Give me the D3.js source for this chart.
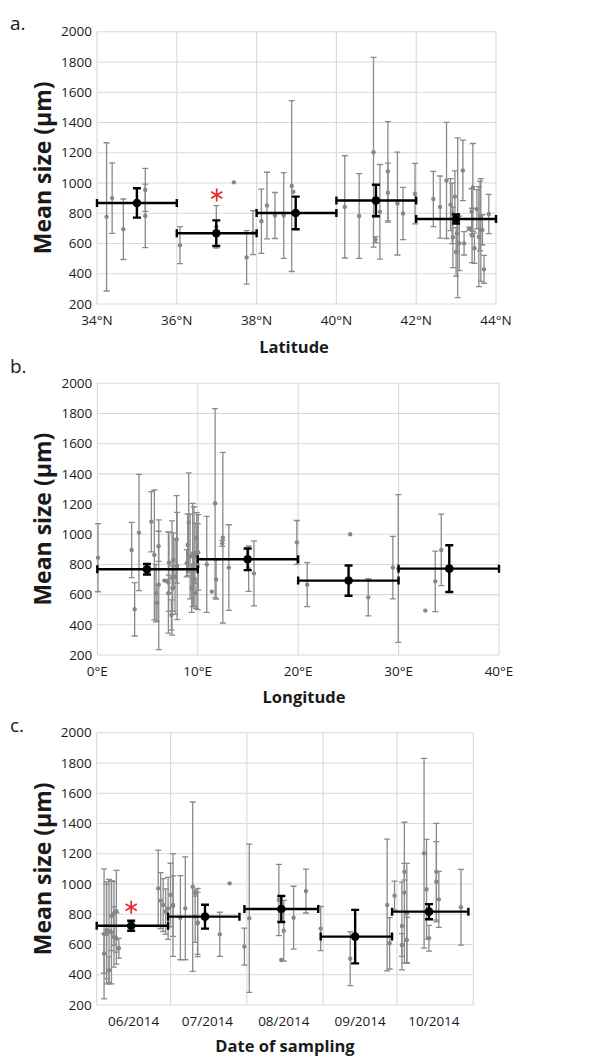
<!DOCTYPE html>
<html>
<head>
<meta charset="utf-8">
<script src="https://cdn.jsdelivr.net/npm/d3@7"></script>
<style>
body{margin:0;background:#fff;}
svg text{font-family:"Open Sans",sans-serif;fill:#1a1a1a;}
</style>
</head>
<body>
<svg id="fig" width="605" height="1057"></svg>
<script>
const yTicks = [200,400,600,800,1000,1200,1400,1600,1800,2000];

// a. latitude: [lat, mean, sd]
const latTicks = [34,36,38,40,42,44];
const latSamples = [
  [34.24,776,490],[34.38,900,233],[34.66,694,200],[35.21,954,142],[35.21,782,210],
  [36.08,589,122],[36.99,710,140],[37.43,1004,0],[37.75,508,177],[37.91,672,145],
  [38.12,747,212],[38.26,851,220],[38.46,785,152],[38.68,785,283],[38.88,980,565],[38.92,942,0],
  [40.21,842,338],[40.57,782,280],[40.93,1203,627],[40.98,626,20],[41.09,809,313],
  [41.29,1077,328],[41.29,936,195],[41.53,864,340],[41.67,798,173],[41.97,929,200],
  [42.43,894,183],[42.6,841,205],[42.76,1017,384],[42.86,857,172],[42.9,799,200],
  [42.92,641,200],[42.97,910,170],[43.0,544,160],[43.02,667,120],[43.04,770,528],
  [43.08,601,180],[43.17,1083,200],[43.2,601,77],[43.33,698,10],[43.39,812,150],
  [43.4,653,180],[43.42,971,290],[43.46,569,100],[43.52,826,130],[43.57,645,330],
  [43.6,782,230],[43.62,689,340],[43.66,690,100],[43.7,429,92],[43.82,795,130]
];
// [center, mean, sd, binStart, binEnd]
const latBins = [
  [35.0,868,97,34,36],[36.99,668,85,36,38],[38.98,802,108,38,40],
  [40.99,884,104,40,42],[43.0,762,30,42,44]
];
const latStars = [[37.0,921]];

// b. longitude
const lonTicks = [0,10,20,30,40];
const lonSamples = [
  [0.07,845,226],[3.42,896,183],[3.72,503,177],[4.15,1011,385],[5.38,1083,200],
  [5.68,863,430],[5.85,610,190],[5.95,545,120],[6.1,920,100],[6.12,665,430],
  [6.68,693,0],[6.91,690,0],[7.08,680,335],[7.1,609,120],[7.14,812,200],
  [7.38,465,100],[7.44,710,378],[7.5,640,150],[7.57,829,180],[7.74,719,250],
  [7.9,966,290],[7.95,790,355],[8.9,808,90],[9.0,929,205],[9.1,1077,330],
  [9.24,852,280],[9.4,642,160],[9.5,862,342],[9.6,700,180],[9.63,852,330],
  [9.73,874,200],[9.83,609,100],[9.9,973,170],[10.0,785,285],[10.05,880,250],
  [10.9,800,318],[11.4,620,0],[11.73,1205,627],[11.83,701,130],[12.5,977,565],
  [12.45,940,20],[13.1,779,284],[15.07,772,150],[15.6,741,215],[19.87,946,145],
  [20.9,666,146],[25.18,1000,0],[26.98,582,123],[29.43,779,207],[29.97,773,490],
  [32.66,494,0],[33.65,688,200],[34.25,896,237]
];
const lonBins = [
  [4.95,768,35,0,10],[14.97,834,72,10,20],[25.02,693,100,20,30],[35.05,772,155,30,40]
];

// c. date of sampling
const monthTicks = ["2014-06-16","2014-07-16","2014-08-16","2014-09-16","2014-10-16"];
const monthGrid = ["2014-06-01","2014-07-01","2014-08-01","2014-09-01","2014-10-01","2014-11-01"];
const dateSamples = [
  ["2014-06-04",670,430],["2014-06-04",540,130],["2014-06-05",670,330],["2014-06-05",695,320],
  ["2014-06-06",690,340],["2014-06-06",430,90],["2014-06-07",790,230],["2014-06-07",680,340],
  ["2014-06-08",805,210],["2014-06-08",650,200],["2014-06-09",820,270],["2014-06-09",640,170],
  ["2014-06-10",575,65],
  ["2014-06-26",971,253],["2014-06-27",890,185],["2014-06-28",861,175],["2014-06-29",817,150],
  ["2014-06-30",839,205],["2014-07-01",927,210],["2014-07-02",861,340],["2014-07-02",854,200],
  ["2014-07-05",777,278],["2014-07-07",839,340],["2014-07-10",982,560],["2014-07-11",940,20],
  ["2014-07-11",784,170],["2014-07-12",745,225],["2014-07-12",740,205],["2014-07-21",667,146],
  ["2014-07-25",1004,0],["2014-07-31",586,122],["2014-08-02",773,490],["2014-08-14",894,235],
  ["2014-08-15",497,0],["2014-08-16",691,200],["2014-08-20",777,208],["2014-08-25",953,145],
  ["2014-08-31",705,146],["2014-09-12",506,178],["2014-09-27",861,435],["2014-09-28",608,170],
  ["2014-09-30",923,96],["2014-10-03",597,75],["2014-10-03",722,290],["2014-10-04",943,465],
  ["2014-10-04",1081,55],["2014-10-05",806,330],["2014-10-05",630,150],["2014-10-12",1203,627],
  ["2014-10-13",965,330],["2014-10-14",641,85],["2014-10-17",1081,320],["2014-10-17",1015,265],
  ["2014-10-18",898,185],["2014-10-27",846,250]
];
const dateBins = [
  ["2014-06-15",724,33,"2014-06-01","2014-06-30"],["2014-07-15",784,79,"2014-06-30","2014-07-29"],
  ["2014-08-15",835,86,"2014-07-31","2014-08-30"],["2014-09-14",652,177,"2014-08-31","2014-09-29"],
  ["2014-10-14",817,50,"2014-09-29","2014-10-30"]
];
const dateStars = [["2014-06-15",846]];

const svg = d3.select("#fig");
const parse = d3.utcParse("%Y-%m-%d");

function vbar(x, y0, y1, w){
  return `M${x},${y0}V${y1}M${x-w},${y0}h${2*w}M${x-w},${y1}h${2*w}`;
}

function panel(o){
  const g = svg.append("g");
  const x = o.x;
  const [x0, x1] = x.range();
  const y = d3.scaleLinear().domain([200,2000]).range([o.bottom, o.top]);

  g.selectAll(".hg").data(yTicks).join("line")
    .attr("x1", x0).attr("x2", x1)
    .attr("y1", d=>y(d)).attr("y2", d=>y(d))
    .attr("stroke", "#d9d9d9").attr("stroke-width", 1.1);
  g.selectAll(".vg").data(o.grid).join("line")
    .attr("x1", d=>x(d)).attr("x2", d=>x(d))
    .attr("y1", y(200)).attr("y2", y(2000))
    .attr("stroke", "#d9d9d9").attr("stroke-width", 1.1);

  g.selectAll(".yl").data(yTicks).join("text")
    .attr("x", x0-5).attr("y", d=>y(d)+4.7)
    .attr("text-anchor", "end").attr("font-size", 13.5)
    .text(d=>d);
  g.selectAll(".xl").data(o.ticks).join("text")
    .attr("x", d=>x(d)).attr("y", o.bottom+21)
    .attr("text-anchor", "middle").attr("font-size", 13.5)
    .text(o.fmt);

  // sample error bars + points
  g.append("g").selectAll("path").data(o.samples.filter(d=>d[2]>0)).join("path")
    .attr("d", d=>vbar(x(d[0]), y(d[1]+d[2]), y(d[1]-d[2]), 3))
    .attr("fill", "none").attr("stroke", "#8a8a8a").attr("stroke-width", 1.3);
  g.append("g").selectAll("circle").data(o.samples).join("circle")
    .attr("cx", d=>x(d[0])).attr("cy", d=>y(d[1])).attr("r", 2.2)
    .attr("fill", "#878787");

  // bin means
  g.append("g").selectAll("path").data(o.bins).join("path")
    .attr("d", d=>{
      const cx = x(d[0]), cy = y(d[1]);
      const xa = x(d[3]), xb = x(d[4]);
      return vbar(cx, y(d[1]+d[2]), y(d[1]-d[2]), 4) +
        `M${xa},${cy}H${xb}M${xa},${cy-4}v8M${xb},${cy-4}v8`;
    })
    .attr("fill", "none").attr("stroke", "#000").attr("stroke-width", 2.4);
  g.append("g").selectAll("circle").data(o.bins).join("circle")
    .attr("cx", d=>x(d[0])).attr("cy", d=>y(d[1])).attr("r", 4.3)
    .attr("fill", "#000");

  // significance stars
  g.append("g").selectAll("path").data(o.stars).join("path")
    .attr("d", d=>{
      const cx = x(d[0]), cy = y(d[1]), r = 6.5;
      const a = r*Math.cos(Math.PI/6), b = r*Math.sin(Math.PI/6);
      return `M${cx},${cy-r}V${cy+r}M${cx-a},${cy-b}L${cx+a},${cy+b}M${cx-a},${cy+b}L${cx+a},${cy-b}`;
    })
    .attr("fill", "none").attr("stroke", "#ec2a2a").attr("stroke-width", 1.7);

  g.append("text").attr("x", 10).attr("y", o.tagY)
    .attr("font-size", 19).text(o.tag);
  g.append("text")
    .attr("transform", `translate(51,${(o.top+o.bottom)/2}) rotate(-90)`)
    .attr("text-anchor", "middle").attr("font-size", 23).attr("font-weight", "bold")
    .text("Mean size (µm)");
  g.append("text").attr("x", o.titleX).attr("y", o.titleY)
    .attr("text-anchor", "middle").attr("font-size", 16.5).attr("font-weight", "bold")
    .text(o.title);
}

panel({
  tag: "a.", tagY: 30, title: "Latitude", titleX: 294, titleY: 353,
  x: d3.scaleLinear().domain([34,44]).range([97,496]),
  top: 31.7, bottom: 304,
  grid: latTicks, ticks: latTicks, fmt: d=>d+"°N",
  samples: latSamples, bins: latBins, stars: latStars
});

panel({
  tag: "b.", tagY: 373, title: "Longitude", titleX: 304, titleY: 703,
  x: d3.scaleLinear().domain([0,40]).range([97.3,499]),
  top: 383.3, bottom: 655,
  grid: lonTicks, ticks: lonTicks, fmt: d=>d+"°E",
  samples: lonSamples, bins: lonBins, stars: []
});

const fmtMonth = d3.utcFormat("%m/%Y");
panel({
  tag: "c.", tagY: 732, title: "Date of sampling", titleX: 285, titleY: 1052,
  x: d3.scaleUtc().domain([parse(monthGrid[0]), parse(monthGrid[monthGrid.length-1])]).range([96.7,473.3]),
  top: 732.7, bottom: 1005,
  grid: monthGrid.map(parse), ticks: monthTicks.map(parse), fmt: fmtMonth,
  samples: dateSamples.map(d=>[parse(d[0]), d[1], d[2]]),
  bins: dateBins.map(d=>[parse(d[0]), d[1], d[2], parse(d[3]), parse(d[4])]),
  stars: dateStars.map(d=>[parse(d[0]), d[1]])
});
</script>
</body>
</html>
